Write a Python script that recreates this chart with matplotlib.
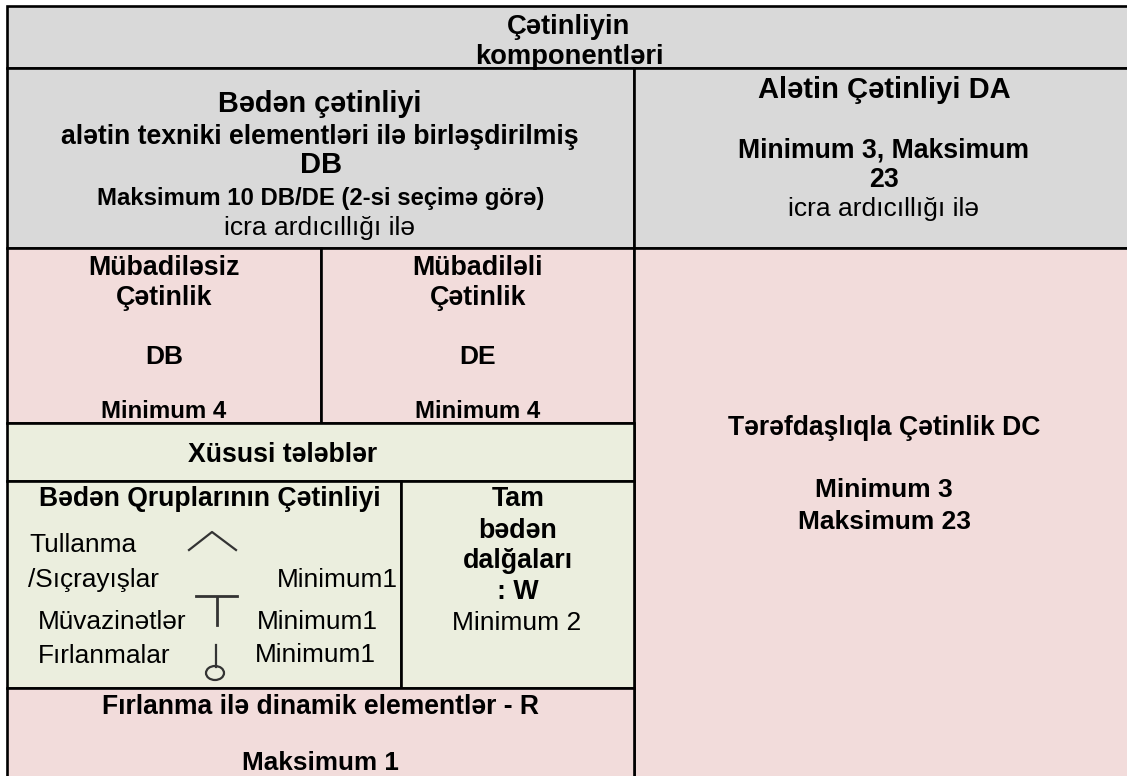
import matplotlib
matplotlib.use('Agg')
import matplotlib.pyplot as plt
from matplotlib.patches import Rectangle, Ellipse

plt.rcParams['font.family'] = ['Liberation Sans', 'DejaVu Sans']

W, H = 1127, 776
GREY = '#d9d9d9'
PINK = '#f2dcdb'
GREEN = '#ebeede'
TEXT_DY = 2  # va='center' counts the descender, push text down to match

# x0, y0, x1, y1, fill (right and bottom run off the page, no border there)
cells = [
    (7, 6, 1135, 68, GREY),
    (7, 68, 634, 248, GREY),
    (634, 68, 1135, 248, GREY),
    (7, 248, 321, 423, PINK),
    (321, 248, 634, 423, PINK),
    (634, 248, 1135, 785, PINK),
    (7, 423, 634, 481, GREEN),
    (7, 481, 401, 688, GREEN),
    (401, 481, 634, 688, GREEN),
    (7, 688, 634, 785, PINK),
]

# x, y, text, size, bold
labels = [
    (569, 25, 'Çətinliyin', 19.7, True),
    (569, 55, 'komponentləri', 19.7, True),
    (320, 102, 'Bədən çətinliyi', 20.8, True),
    (320, 135, 'alətin texniki elementləri ilə birləşdirilmiş', 19.2, True),
    (321, 163, 'DB', 21, True),
    (321, 197, 'Maksimum 10 DB/DE (2-si seçimə görə)', 17.2, True),
    (320, 226, 'icra ardıcıllığı ilə', 19, False),
    (884, 88, 'Alətin Çətinliyi DA', 21, True),
    (884, 148, 'Minimum 3, Maksimum', 19.2, True),
    (884, 178, '23', 19.2, True),
    (884, 207, 'icra ardıcıllığı ilə', 19, False),
    (164, 266, 'Mübadiləsiz', 19.3, True),
    (164, 296, 'Çətinlik', 19.3, True),
    (164, 355, 'DB', 19, True),
    (164, 410, 'Minimum 4', 17.3, True),
    (478, 266, 'Mübadiləli', 19.3, True),
    (478, 296, 'Çətinlik', 19.3, True),
    (478, 355, 'DE', 19, True),
    (478, 410, 'Minimum 4', 17.3, True),
    (283, 453, 'Xüsusi tələblər', 19.2, True),
    (210, 497, 'Bədən Qruplarının Çətinliyi', 19.1, True),
    (518, 497, 'Tam', 19.3, True),
    (518, 529, 'bədən', 19.3, True),
    (518, 559, 'dalğaları', 19.3, True),
    (518, 590, ': W', 19.3, True),
    (517, 621, 'Minimum 2', 19, False),
    (321, 705, 'Fırlanma ilə dinamik elementlər - R', 19.1, True),
    (320, 761, 'Maksimum 1', 18.8, True),
    (884, 426, 'Tərəfdaşlıqla Çətinlik DC', 19.1, True),
    (884, 488, 'Minimum 3', 19, True),
    (884, 520, 'Maksimum 23', 19, True),
]

# rows of the body groups block, left aligned
group_labels = [
    (29, 543, 'Tullanma'),
    (28, 578, '/Sıçrayışlar'),
    (38, 620, 'Müvazinətlər'),
    (38, 654, 'Fırlanmalar'),
    (277, 578, 'Minimum1'),
    (257, 620, 'Minimum1'),
    (255, 653, 'Minimum1'),
]

fig = plt.figure(figsize=(W / 100, H / 100), dpi=100)
ax = fig.add_axes([0, 0, 1, 1])
ax.set_xlim(0, W)
ax.set_ylim(H, 0)
ax.axis('off')

for x0, y0, x1, y1, fill in cells:
    ax.add_patch(Rectangle((x0, y0), x1 - x0, y1 - y0, facecolor=fill, edgecolor='black', linewidth=1.9))

for x, y, s, size, bold in labels:
    ax.text(x, y + TEXT_DY, s, fontsize=size, fontweight='bold' if bold else 'normal',
            ha='center', va='center', color='black')

for x, y, s in group_labels:
    ax.text(x, y + TEXT_DY, s, fontsize=18.9, ha='left', va='center', color='black')

# symbols for the body groups
ax.plot([189, 212, 236], [550, 532, 550], color='#333333', lw=1.6)
ax.plot([196, 237], [596, 596], color='#333333', lw=2.0)
ax.plot([217, 217], [597, 625], color='#333333', lw=2.0)
ax.plot([216, 216], [645, 667], color='#333333', lw=1.6)
ax.add_patch(Ellipse((215, 673), 18, 14, facecolor='none', edgecolor='#333333', linewidth=1.6))

fig.savefig('out.png', dpi=100)
